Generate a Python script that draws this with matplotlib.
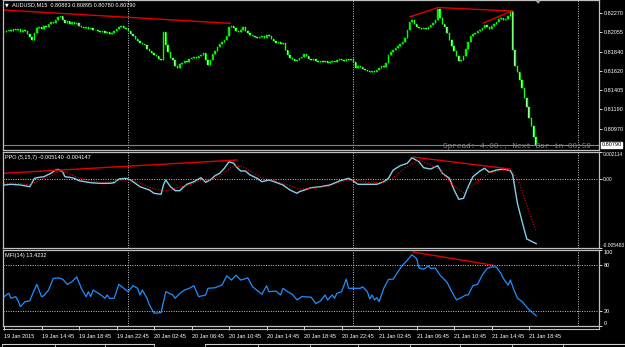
import matplotlib
matplotlib.use("Agg")
from matplotlib import pyplot as plt
from matplotlib.lines import Line2D
import numpy as np

# AUDUSD M15 closes, one per bar, starting at 19 Jan 10:45
close_prices = [
    0.82057, 0.82068, 0.82080, 0.82068, 0.82091, 0.82080, 0.82091, 0.82057, 0.82080, 0.82068,
    0.82035, 0.82001, 0.81968, 0.82046, 0.82102, 0.82113, 0.82091, 0.82124, 0.82113, 0.82147,
    0.82169, 0.82158, 0.82192, 0.82225, 0.82237, 0.82192, 0.82158, 0.82180, 0.82147, 0.82169,
    0.82147, 0.82158, 0.82124, 0.82113, 0.82102, 0.82113, 0.82091, 0.82102, 0.82080, 0.82080,
    0.82068, 0.82057, 0.82068, 0.82046, 0.82057, 0.82035, 0.82046, 0.82068, 0.82091, 0.82113,
    0.82124, 0.82102, 0.82091, 0.82068, 0.82035, 0.82012, 0.81979, 0.81956, 0.81934, 0.81923,
    0.81912, 0.81867, 0.81844, 0.81822, 0.81800, 0.81788, 0.81755, 0.81744, 0.82057, 0.81912,
    0.81833, 0.81766, 0.81744, 0.81676, 0.81654, 0.81699, 0.81710, 0.81732, 0.81721, 0.81755,
    0.81766, 0.81777, 0.81766, 0.81788, 0.81800, 0.81822, 0.81744, 0.81688, 0.81744, 0.81811,
    0.81844, 0.81889, 0.81923, 0.81945, 0.81968, 0.82012, 0.82113, 0.82124, 0.82102, 0.82068,
    0.82057, 0.82080, 0.82113, 0.82068, 0.82046, 0.82024, 0.82012, 0.82001, 0.81990, 0.82001,
    0.82012, 0.81990, 0.82024, 0.82012, 0.81979, 0.81956, 0.81934, 0.81945, 0.81923, 0.81934,
    0.81856, 0.81800, 0.81766, 0.81755, 0.81732, 0.81744, 0.81766, 0.81777, 0.81811, 0.81788,
    0.81755, 0.81744, 0.81755, 0.81732, 0.81721, 0.81732, 0.81721, 0.81732, 0.81710, 0.81721,
    0.81732, 0.81721, 0.81744, 0.81755, 0.81744, 0.81732, 0.81755, 0.81744, 0.81755, 0.81721,
    0.81654, 0.81676, 0.81665, 0.81643, 0.81632, 0.81620, 0.81609, 0.81620, 0.81609, 0.81632,
    0.81654, 0.81676, 0.81665, 0.81710, 0.81800, 0.81833, 0.81856, 0.81878, 0.81900, 0.81923,
    0.81945, 0.81990, 0.82080, 0.82169, 0.82192, 0.82147, 0.82113, 0.82102, 0.82091, 0.82102,
    0.82091, 0.82113, 0.82136, 0.82158, 0.82192, 0.82320, 0.82214, 0.82147, 0.82113, 0.82046,
    0.81968, 0.81900, 0.81844, 0.81788, 0.81732, 0.81744, 0.81788, 0.81867, 0.81945, 0.82012,
    0.82035, 0.82046, 0.82068, 0.82080, 0.82102, 0.82136, 0.82113, 0.82091, 0.82124, 0.82147,
    0.82169, 0.82203, 0.82214, 0.82192, 0.82203, 0.82237, 0.82290, 0.81856, 0.81676, 0.81609,
    0.81520, 0.81430, 0.81318, 0.81217, 0.81094, 0.81000, 0.80883, 0.80790,
]

price_ticks = [0.82270, 0.82055, 0.81840, 0.81620, 0.81405, 0.81190, 0.80970]
bid_price = 0.80790

# PPO(5,15,7) main line and signal, sampled at bar positions
ppo_bars = [0, 3, 7, 11, 13, 15, 17, 20, 22, 23, 25, 26, 28, 30, 32, 37, 41, 45, 47, 49,
            52, 54, 56, 58, 62, 64, 67, 68, 69, 71, 73, 75, 76, 78, 81, 84, 86, 88, 90, 92,
            94, 96, 98, 99, 101, 103, 105, 108, 110, 113, 116, 119, 122, 125, 126, 131, 135, 139, 143, 147,
            149, 151, 155, 159, 162, 164, 166, 169, 172, 174, 177, 179, 182, 185, 187, 190, 192, 194, 196, 198,
            200, 203, 205, 207, 210, 213, 216, 217, 219, 221, 223, 227]
ppo_vals = [-0.000498, -0.000443, -0.000498, -0.000633, 0.000032, 0.000111, 0.000158, 0.000427, 0.000688, 0.000744,
            0.000554, 0.000158, 0.000111, 0.000032, -0.000158, -0.000316, -0.000364, -0.000364, -0.000316, -0.000024,
            0.000032, -0.000103, -0.000364, -0.000633, -0.000894, -0.001155, -0.001234, -0.000498, -0.000103, -0.000633,
            -0.000949, -0.000949, -0.000759, -0.000443, -0.000237, 0.000079, -0.000285, -0.000103, 0.000237, 0.000427,
            0.000823, 0.001345, 0.001218, 0.000949, 0.000609, 0.000609, 0.000293, 0.000032, -0.000237, -0.000103,
            -0.000285, -0.000498, -0.000894, -0.001155, -0.001028, -0.000712, -0.000633, -0.000498, -0.000182, 0.000032,
            -0.000182, -0.000443, -0.000443, -0.000443, -0.000237, 0.000032, 0.000688, 0.001028, 0.001218, 0.001661,
            0.001345, 0.000870, 0.000767, 0.001028, 0.000427, 0.000032, -0.000894, -0.001630, -0.001550, -0.000633,
            0.000158, 0.000609, 0.000823, 0.000506, 0.000688, 0.000767, 0.000633, 0.000293, -0.001946, -0.003401,
            -0.004770, -0.005140]
sig_bars = [0, 7, 11, 15, 20, 24, 27, 32, 41, 49, 54, 58, 64, 69, 73, 79, 84, 88, 92, 97,
            101, 105, 110, 116, 122, 126, 133, 139, 145, 150, 156, 163, 167, 171, 177, 182, 186, 190, 196, 201,
            207, 214, 217, 220, 224, 227]
sig_vals = [-0.000340, -0.000380, -0.000498, -0.000103, 0.000214, 0.000609, 0.000451, 0.000055, -0.000301, -0.000182,
            -0.000024, -0.000340, -0.000815, -0.000973, -0.000736, -0.000498, -0.000103, -0.000103, 0.000214, 0.000925,
            0.001005, 0.000609, 0.000055, -0.000182, -0.000577, -0.000815, -0.000736, -0.000577, -0.000182, -0.000103,
            -0.000340, -0.000261, 0.000214, 0.000846, 0.001479, 0.001084, 0.000688, -0.000261, -0.001131, -0.000340,
            0.000451, 0.000688, 0.000609, -0.000419, -0.002634, -0.004147]

# MFI(14), sampled at bar positions
mfi_bars = [0, 2, 3, 5, 6, 7, 9, 11, 12, 14, 16, 17, 19, 21, 23, 25, 27, 29, 31, 33,
            35, 36, 37, 38, 41, 43, 44, 45, 47, 49, 52, 53, 55, 57, 58, 59, 61, 62, 64, 65,
            67, 69, 72, 73, 75, 77, 79, 81, 83, 86, 87, 90, 93, 95, 97, 99, 101, 104, 106, 110,
            112, 113, 116, 118, 119, 121, 123, 125, 127, 131, 133, 135, 137, 138, 140, 141, 142, 144, 146, 147,
            150, 152, 153, 155, 156, 157, 158, 159, 160, 162, 164, 166, 168, 170, 172, 174, 176, 177, 179, 181,
            182, 184, 186, 189, 191, 193, 195, 197, 198, 200, 202, 204, 206, 208, 210, 212, 213, 215, 216, 217,
            219, 221, 224, 227]
mfi_vals = [38.6, 43.0, 36.5, 38.6, 33.0, 25.6, 32.1, 33.0, 40.8, 54.8, 38.6, 39.9, 47.3, 62.6, 63.4, 61.7, 54.8, 58.2, 64.7, 49.6,
            38.6, 45.1, 38.6, 47.3, 41.7, 36.5, 40.8, 36.5, 36.5, 54.8, 47.3, 45.1, 53.0, 49.6, 40.8, 47.3, 36.5, 27.8, 17.0, 17.0,
            17.7, 45.1, 40.8, 36.5, 43.0, 47.3, 49.6, 53.0, 38.6, 40.8, 49.6, 50.3, 53.9, 66.0, 60.4, 66.9, 60.4, 63.4, 51.7, 41.7,
            53.0, 45.1, 46.0, 40.8, 49.6, 45.1, 41.7, 34.3, 38.6, 38.0, 29.5, 33.0, 40.8, 34.3, 40.8, 36.5, 43.0, 45.1, 61.7, 49.6,
            49.6, 49.6, 51.7, 45.1, 35.6, 40.8, 34.3, 37.3, 32.1, 49.6, 61.3, 61.7, 71.2, 80.0, 86.5, 93.9, 88.7, 76.4, 74.7, 79.0,
            75.6, 76.4, 66.9, 57.4, 45.1, 34.3, 37.3, 40.8, 40.8, 53.0, 54.8, 66.9, 75.6, 77.7, 77.7, 69.1, 62.6, 53.9, 60.4, 51.7,
            36.5, 32.1, 21.3, 13.4]

# hand-drawn divergence lines: (bar0, value0, bar1, value1)
price_lines = [(-0.4, 0.82307, 96.4, 0.82157), (173.2, 0.82231, 184.7, 0.82329),
               (184.7, 0.82335, 216.7, 0.82295), (204.4, 0.82160, 216.7, 0.82295)]
ppo_lines = [(-0.4, 0.000427, 99.4, 0.001479), (174.5, 0.001716, 215.9, 0.000767)]
mfi_lines = [(174.5, 97.3, 208.6, 80.0)]

time_labels = ["19 Jan 2015", "19 Jan 14:45", "19 Jan 18:45", "19 Jan 22:45", "20 Jan 02:45",
               "20 Jan 06:45", "20 Jan 10:45", "20 Jan 14:45", "20 Jan 18:45", "20 Jan 22:45",
               "21 Jan 02:45", "21 Jan 06:45", "21 Jan 10:45", "21 Jan 14:45", "21 Jan 18:45"]
day_starts = [53, 149, 245]

W, H = 625, 347
FONT = ["Liberation Sans", "DejaVu Sans"]
FS = 4.0
GRID = "#c8c8c8"
FRAME = "#c0c0c0"


def px_rect(x0, y0, x1, y1):
    return [x0 / W, (H - y1) / H, (x1 - x0) / W, (y1 - y0) / H]


def px_line(xs, ys, **kw):
    fig.add_artist(Line2D([x / W for x in xs], [1 - y / H for y in ys],
                          transform=fig.transFigure, **kw))


plt.rcParams["font.family"] = FONT
fig = plt.figure(figsize=(6.25, 3.47), dpi=100, facecolor="black")
ax1 = fig.add_axes(px_rect(3, 0, 599, 150))
ax2 = fig.add_axes(px_rect(3, 152, 599, 248), sharex=ax1)
ax3 = fig.add_axes(px_rect(3, 250, 599, 326), sharex=ax1)

for ax in (ax1, ax2, ax3):
    ax.set_facecolor("black")
    for s in ax.spines.values():
        s.set_color(FRAME)
        s.set_linewidth(0.9)
    for b in day_starts:
        ax.axvline(b, color=GRID, lw=0.7, ls=(0, (1, 1.5)))
    ax.yaxis.tick_right()
    ax.tick_params(axis="y", colors="white", labelsize=FS, length=2, width=0.6, pad=1.5)
    ax.tick_params(axis="x", colors="white", labelsize=FS, length=3, width=0.6, pad=3)

# ---- price candles
closes = np.array(close_prices)
opens = np.concatenate([[closes[0]], closes[:-1]])
bars = np.arange(len(closes))
lo = np.minimum(opens, closes)
hi = np.maximum(opens, closes)
up = closes >= opens
ax1.vlines(bars, lo, hi, colors="#00ff00", lw=0.6)
heights = np.maximum(hi - lo, 0.00003)
ax1.bar(bars, heights, bottom=lo, width=0.62,
        color=np.where(up, "#00dd00", "#c8ffc8"), edgecolor="#00ff00", linewidth=0.3)
for b0, v0, b1, v1 in price_lines:
    ax1.plot([b0, b1], [v0, v1], color="#e00000", lw=1.0)
ax1.axhline(bid_price, color="#778899", lw=0.8)
ax1.set_ylim(0.80733, 0.82419)
ax1.set_yticks(price_ticks)
ax1.set_yticklabels([f"{v:.5f}" for v in price_ticks])
ax1.text(1.004, bid_price, f"{bid_price:.5f}", transform=ax1.get_yaxis_transform(),
         color="black", fontsize=FS, va="center", ha="left",
         bbox=dict(boxstyle="square,pad=0.15", fc="white", ec="white"))
ax1.tick_params(axis="x", bottom=False, labelbottom=False)

# ---- PPO
ax2.plot(ppo_bars, ppo_vals, color="#87ceeb", lw=1.0)
ax2.plot(sig_bars, sig_vals, color="#ff0000", lw=0.8, ls=(0, (1, 1.5)))
for b0, v0, b1, v1 in ppo_lines:
    ax2.plot([b0, b1], [v0, v1], color="#e00000", lw=1.0)
ax2.axhline(0, color=GRID, lw=0.7, ls=(0, (1, 1.5)))
ax2.set_ylim(-0.005483, 0.002114)
ax2.set_yticks([0.002114, 0.0, -0.005483])
ax2.set_yticklabels(["0.002114", "0.00", "-0.005483"])
ax2.tick_params(axis="y", labelsize=3.5, pad=0.8)
lbls = ax2.get_yticklabels()
lbls[0].set_va("top")
lbls[2].set_va("bottom")
ax2.tick_params(axis="x", bottom=False, labelbottom=False)

# ---- MFI
ax3.plot(mfi_bars, mfi_vals, color="#1e90ff", lw=0.9)
for b0, v0, b1, v1 in mfi_lines:
    ax3.plot([b0, b1], [v0, v1], color="#e00000", lw=1.0)
for lvl in (80, 20):
    ax3.axhline(lvl, color=GRID, lw=0.7, ls=(0, (1, 1.5)))
ax3.set_ylim(0, 100)
ax3.set_yticks([100, 80, 20, 0])
ax3.set_yticklabels(["100", "80", "20", "0"])
lbls = ax3.get_yticklabels()
lbls[0].set_va("top")
lbls[3].set_va("bottom")
ax3.set_xticks(np.arange(len(time_labels)) * 16)
ax3.set_xticklabels(time_labels, ha="left")
ax3.set_xlim(-0.43, 253.8)

# ---- frame bits and bottom tabs
px_line([3, 599], [328.5, 328.5], color=FRAME, lw=0.8)
px_line([599, 599], [326, 328.5], color=FRAME, lw=0.8)
for x0, x1, dividers in [(2, 154, [55, 105]), (205, 625, [258, 310, 358, 410, 460, 512, 563])]:
    px_line([x0, x1], [343.5, 343.5], color="#d0d0d0", lw=0.8)
    for d in [x0] + dividers + [x1]:
        px_line([d, d], [343.5, 347], color="#d0d0d0", lw=0.6)

# ---- texts
fig.text(5 / W, 1 - 5 / H, "\u25bc", color="white", fontsize=3.5, va="center",
         family=["DejaVu Sans"])
fig.text(12 / W, 1 - 5 / H, "AUDUSD,M15  0.80883 0.80895 0.80780 0.80790",
         color="white", fontsize=FS, va="center")
fig.text(538 / W, 1 - 1.5 / H, "\u25c6", color="#a0a0b0", fontsize=4, ha="center",
         va="center", family=["DejaVu Sans"])
fig.text(5 / W, 1 - 158 / H, "PPO (5,15,7) -0.005140 -0.004147",
         color="white", fontsize=FS, va="center")
fig.text(5 / W, 1 - 255 / H, "MFI(14) 13.4232", color="white", fontsize=FS, va="center")
fig.text(443 / W, 1 - 146 / H, "Spread: 4.00.. Next Bar in 08:59", color="#808080",
         fontsize=5.6, va="center", family=["Liberation Mono", "DejaVu Sans Mono"])

fig.savefig("out.png", dpi=100, facecolor="black")
